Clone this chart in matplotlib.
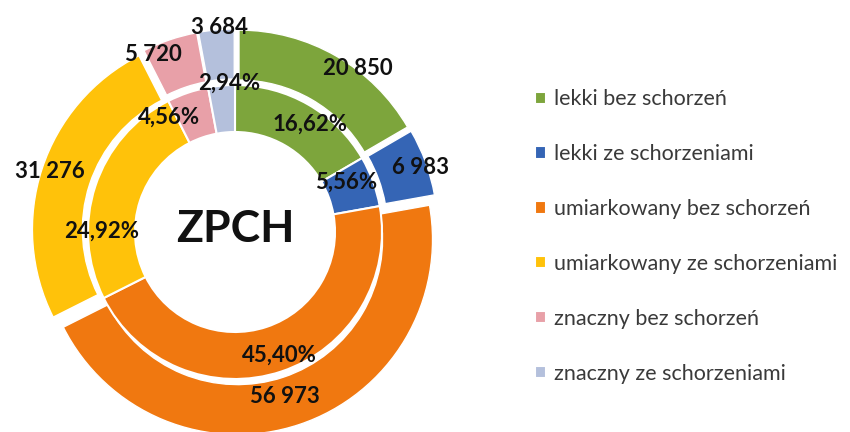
import numpy as np
import matplotlib.pyplot as plt

# data
categories = [
    "lekki bez schorzeń",
    "lekki ze schorzeniami",
    "umiarkowany bez schorzeń",
    "umiarkowany ze schorzeniami",
    "znaczny bez schorzeń",
    "znaczny ze schorzeniami",
]
counts = [20850, 6983, 56973, 31276, 5720, 3684]
center_label = "ZPCH"

colors = ["#7DA53C", "#3565B5", "#F07810", "#FFC20A", "#E8A0A8", "#B4C0DC"]

plt.rcParams["font.family"] = ["Lato", "DejaVu Sans"]

fig = plt.figure(figsize=(8.5, 4.32), dpi=100)
ax = fig.add_axes([0, 0, 1, 1])

cx, cy = 235, 200
r_outer, w_outer = 195, 50
r_inner, w_inner = 147, 47
explode = 8  # pixels (pie explode is in data units)

total = sum(counts)
shares = [c / total * 100 for c in counts]

# outer ring (exploded)
outer, _ = ax.pie(counts, colors=colors, radius=r_outer, center=(cx, cy),
                  startangle=90, counterclock=False, explode=[explode] * len(counts),
                  wedgeprops=dict(width=w_outer, edgecolor="white", linewidth=1.0),
                  frame=True)
# inner ring
inner, _ = ax.pie(counts, colors=colors, radius=r_inner, center=(cx, cy),
                  startangle=90, counterclock=False,
                  wedgeprops=dict(width=w_inner, edgecolor="white", linewidth=1.5),
                  frame=True)
ax.set_xlim(0, 850)
ax.set_ylim(0, 432)
ax.set_aspect("equal")
ax.axis("off")


def fmt_count(v):
    return f"{v:,}".replace(",", " ")


# label placement: radius and angular nudge (deg) per slice
outer_pos = [(204, -7), (196, -1), (172, -1.5), (195, 0), (195, 6), (205, -1)]
inner_pos = [(131, -5), (122, 4), (131, 1.5), (133, 18), (132, 11), (149, -3)]
for i, w in enumerate(outer):
    r, d = outer_pos[i]
    ang = np.deg2rad((w.theta1 + w.theta2) / 2 + d)
    ax.text(cx + r * np.cos(ang), cy + r * np.sin(ang),
            fmt_count(counts[i]), ha="center", va="center",
            fontsize=16, fontweight="bold", color="#111111")
for i, w in enumerate(inner):
    r, d = inner_pos[i]
    ang = np.deg2rad((w.theta1 + w.theta2) / 2 + d)
    ax.text(cx + r * np.cos(ang), cy + r * np.sin(ang),
            f"{shares[i]:.2f}%".replace(".", ","), ha="center", va="center",
            fontsize=16, fontweight="bold", color="#111111")

ax.text(cx, cy + 3, center_label, ha="center", va="center",
        fontsize=32, fontweight="bold", color="#111111")

ax.legend(inner, categories, loc="upper left", bbox_to_anchor=(516 / 850, 1 - 70 / 432),
          frameon=False, fontsize=15.5, handlelength=0.5, handleheight=0.5,
          handletextpad=0.35, labelspacing=1.62, labelcolor="#3a3a3a")

fig.savefig("out.png", dpi=100)
